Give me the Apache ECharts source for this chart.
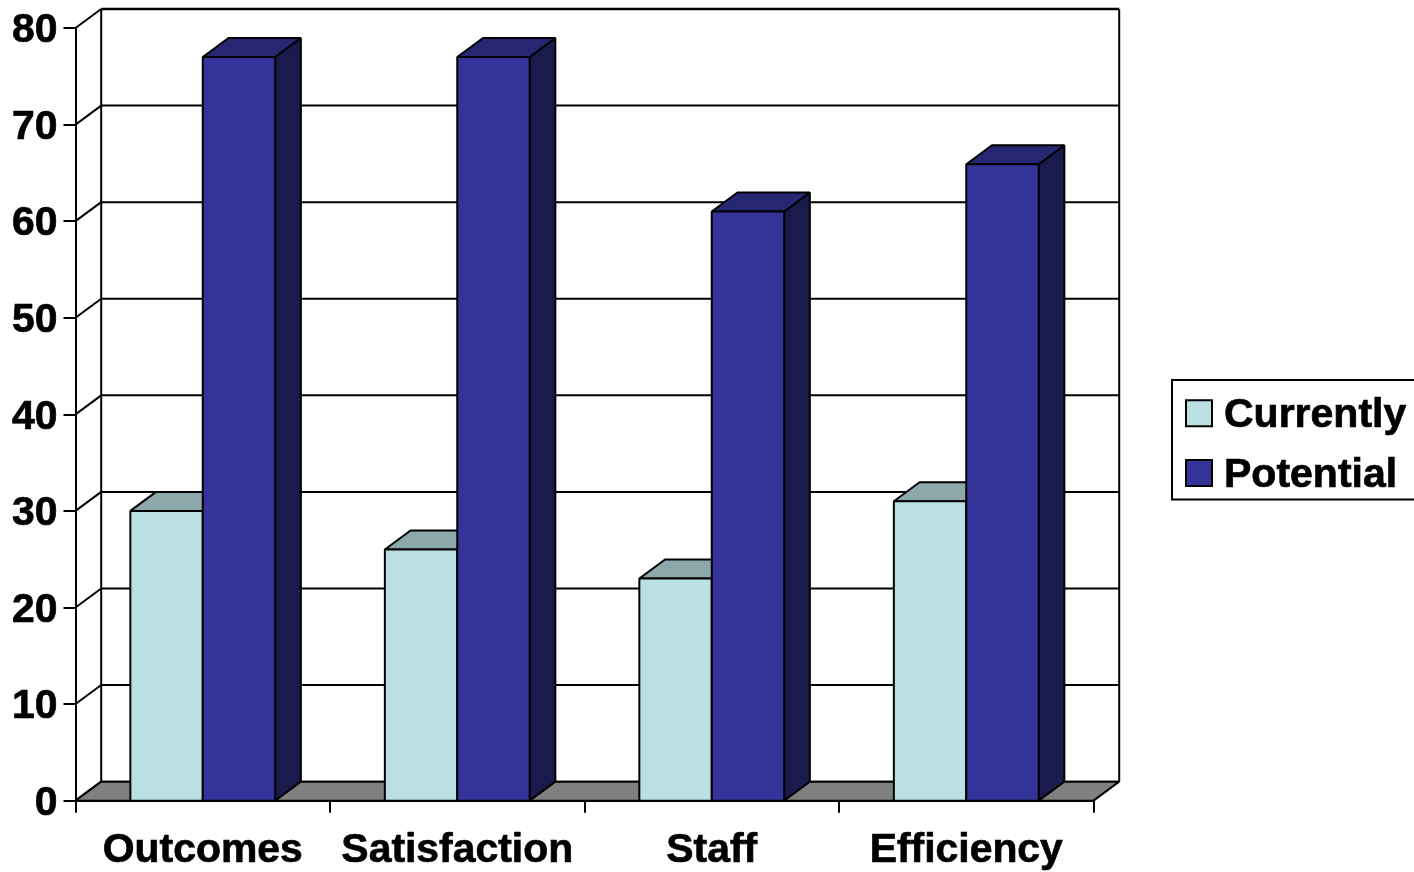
<!DOCTYPE html>
<html><head><meta charset="utf-8">
<style>html,body{margin:0;padding:0;background:#fff}#c{width:1414px;height:872px}</style>
<script src="https://cdn.jsdelivr.net/npm/echarts@6/dist/echarts.min.js"></script>
</head><body><div id="c"></div>
<script>
const categories = ['Outcomes', 'Satisfaction', 'Staff', 'Efficiency'];
const yTicks = [0, 10, 20, 30, 40, 50, 60, 70, 80];
const currently = [30, 26, 23, 31];
const potential = [77, 77, 61, 65.9];

const DX = 25.7, DY = -19, LW = 2;
const FONT = '"Liberation Sans", Arial, sans-serif';
const chart = echarts.init(document.getElementById('c'));
const line = (x1, y1, x2, y2, w) => ({type:'line', shape:{x1,y1,x2,y2}, style:{stroke:'#000', lineWidth:w||LW}});
const poly = (points, fill) => ({type:'polygon', shape:{points}, style:{fill, stroke:'#000', lineWidth:LW, lineJoin:'bevel'}});

function wall(params, api) {
  const cs = params.coordSys;
  const y = api.coord([0, api.value(1)])[1];
  const x0 = cs.x, x1 = cs.x + cs.width, v = api.value(1);
  const kids = [line(x0, y, x0 + DX, y + DY), line(x0 + DX, y + DY, x1 + DX, y + DY, v === 80 ? 2.5 : 2)];
  if (v === 80) {
    const y0 = api.coord([0, 0])[1];
    kids.push(line(x0 + DX, y + DY, x0 + DX, y0 + DY), line(x1 + DX, y + DY, x1 + DX, y0 + DY));
  }
  return {type:'group', children:kids};
}
function floor(params, api) {
  const cs = params.coordSys, y = api.coord([0, 0])[1];
  const a = cs.x, b = cs.x + cs.width;
  return poly([[a, y], [b, y], [b + DX, y + DY], [a + DX, y + DY]], '#808080');
}
function bar(offset, front, top, side) {
  return function (params, api) {
    const c = api.coord([api.value(0), api.value(1)]);
    const y0 = api.coord([api.value(0), 0])[1];
    const w = api.size([1, 0])[0] * 0.2845;
    const l = c[0] + offset * w, r = l + w, t = c[1];
    return {type:'group', children:[
      poly([[r, y0], [r + DX, y0 + DY], [r + DX, t + DY], [r, t]], side),
      poly([[l, t], [l + DX, t + DY], [r + DX, t + DY], [r, t]], top),
      poly([[l, y0], [r, y0], [r, t], [l, t]], front)
    ]};
  };
}
const labelText = {color:'#000', fontFamily:FONT, fontWeight:'bold', fontSize:40.9, textBorderColor:'#000', textBorderWidth:0.7};
chart.setOption({
  animation:false,
  grid:{left:75.5, top:28, width:1018, height:774, containLabel:false},
  xAxis:{type:'category', data:categories,
    axisLine:{show:true, lineStyle:{color:'#000', width:2}},
    axisTick:{show:true, length:12, lineStyle:{color:'#000', width:2}},
    axisLabel:Object.assign({margin:30, interval:0}, labelText)},
  yAxis:{type:'value', min:0, max:80, interval:10,
    axisLine:{show:true, lineStyle:{color:'#000', width:2}},
    axisTick:{show:true, length:12, lineStyle:{color:'#000', width:2}},
    splitLine:{show:false},
    axisLabel:Object.assign({margin:18, formatter:'{a|{value}}',
      rich:{a:Object.assign({padding:[6,0,0,0]}, labelText)}}, labelText)},
  legend:{left:1172, top:380, orient:'vertical', itemWidth:26, itemHeight:26, itemGap:18, icon:'rect',
    padding:[15, 30, 3, 13], borderColor:'#000', borderWidth:2, backgroundColor:'#fff',
    formatter:'{a|{name}}',
    textStyle:{color:'#000', fontFamily:FONT, fontWeight:'bold', fontSize:41, padding:[0,0,0,7], textBorderColor:'#000', textBorderWidth:0.7,
      rich:{a:{color:'#000', fontFamily:FONT, fontWeight:'bold', fontSize:41, textBorderColor:'#000', textBorderWidth:0.7, padding:[5,0,0,0]}}},
    data:[
      {name:'Currently', itemStyle:{color:'#BBE0E3', borderColor:'#000', borderWidth:2}},
      {name:'Potential', itemStyle:{color:'#333399', borderColor:'#000', borderWidth:2}}]},
  series:[
    {type:'custom', name:'wall', silent:true, clip:false, z:1, renderItem:wall, data:yTicks.map(v => [0, v]), encode:{x:0, y:1}},
    {type:'custom', name:'floor', silent:true, clip:false, z:2, renderItem:floor, data:[[0, 0]], encode:{x:0, y:1}},
    {type:'custom', name:'Currently', clip:false, z:3, renderItem:bar(-1, '#BBE0E3', '#8CA8AA', '#5E7072'),
      itemStyle:{color:'#BBE0E3'}, data:currently.map((v, i) => [i, v]), encode:{x:0, y:1}},
    {type:'custom', name:'Potential', clip:false, z:4, renderItem:bar(0, '#333399', '#262673', '#1A1A4D'),
      itemStyle:{color:'#333399'}, data:potential.map((v, i) => [i, v]), encode:{x:0, y:1}}
  ]
});
</script></body></html>
